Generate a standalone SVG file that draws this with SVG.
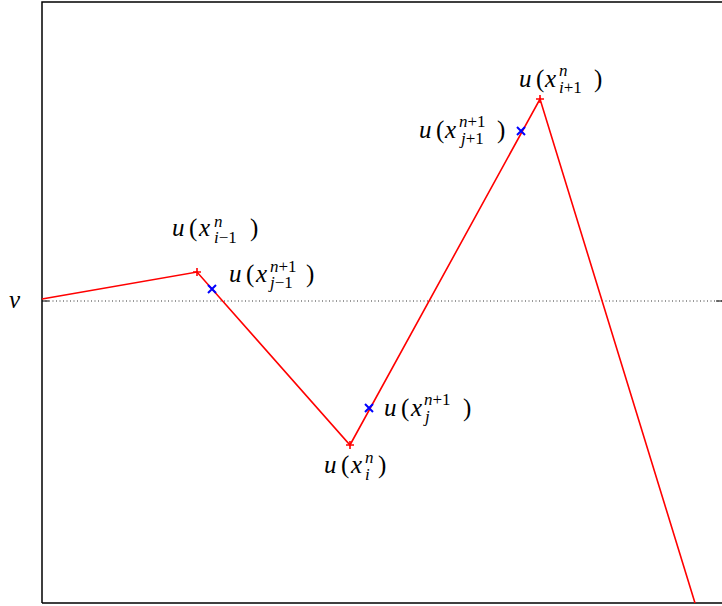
<svg xmlns="http://www.w3.org/2000/svg" width="722" height="606" viewBox="0 0 722 606">
<style>
.t{font-family:'Liberation Serif','Times New Roman','DejaVu Serif',serif;fill:#000;font-size:25px}
.it{font-style:italic}
.s{font-size:17px}
.frame{fill:none;stroke:#000;stroke-width:1.5}
.curve{fill:none;stroke:#ff0000;stroke-width:1.6}
.plus{stroke:#ff0000;stroke-width:1.6;fill:none}
.cross{stroke:#0000ff;stroke-width:2;fill:none}
</style>
<defs>
<path id="pm" d="M-4,0H4M0,-4V4"/>
<path id="xm" d="M-4,-4L4,4M-4,4L4,-4"/>
</defs>
<rect width="722" height="606" fill="#fff"/>
<g id="axes">
<path class="frame" d="M42,603V2H724M42,603H724"/>
<path d="M42,301H724" stroke="#333" stroke-width="1" stroke-dasharray="1,2.5"/>
<path d="M42,301H49M716,301H722" stroke="#000" stroke-width="1.2"/>
<text class="t it" x="9" y="308">v</text>
</g>
<g id="connectors">
<polyline class="curve" points="42,299 197,272 350,445 540,99 695,603"/>
</g>
<g id="markers">
<use href="#pm" class="plus" x="197" y="272"/>
<use href="#pm" class="plus" x="350" y="445"/>
<use href="#pm" class="plus" x="540" y="99"/>
<use href="#xm" class="cross" x="212" y="289"/>
<use href="#xm" class="cross" x="369" y="408"/>
<use href="#xm" class="cross" x="521" y="131"/>
</g>
<g id="label-i-1">
<text class="t"><tspan class="it" x="172" y="236">u</tspan><tspan x="189" y="236">(</tspan><tspan class="it" x="199" y="236">x</tspan><tspan class="it s" x="214" y="227">n</tspan><tspan class="s" x="214" y="243"><tspan class="it">i</tspan>−1</tspan><tspan x="250" y="236">)</tspan></text>
</g>
<g id="label-j-1">
<text class="t"><tspan class="it" x="229" y="282">u</tspan><tspan x="246" y="282">(</tspan><tspan class="it" x="256" y="282">x</tspan><tspan class="s" x="270" y="272"><tspan class="it">n</tspan>+1</tspan><tspan class="s" x="270" y="288"><tspan class="it">j</tspan>−1</tspan><tspan x="306" y="282">)</tspan></text>
</g>
<g id="label-i">
<text class="t"><tspan class="it" x="324" y="473">u</tspan><tspan x="341" y="473">(</tspan><tspan class="it" x="351" y="473">x</tspan><tspan class="it s" x="365" y="463">n</tspan><tspan class="it s" x="365" y="480">i</tspan><tspan x="378" y="473">)</tspan></text>
</g>
<g id="label-j">
<text class="t"><tspan class="it" x="384" y="416">u</tspan><tspan x="401" y="416">(</tspan><tspan class="it" x="411" y="416">x</tspan><tspan class="s" x="424" y="405"><tspan class="it">n</tspan>+1</tspan><tspan class="it s" x="425" y="422">j</tspan><tspan x="463" y="416">)</tspan></text>
</g>
<g id="label-i+1">
<text class="t"><tspan class="it" x="519" y="87">u</tspan><tspan x="536" y="87">(</tspan><tspan class="it" x="545" y="87">x</tspan><tspan class="it s" x="559" y="76">n</tspan><tspan class="s" x="559" y="93"><tspan class="it">i</tspan>+1</tspan><tspan x="594" y="87">)</tspan></text>
</g>
<g id="label-j+1">
<text class="t"><tspan class="it" x="419" y="138">u</tspan><tspan x="436" y="138">(</tspan><tspan class="it" x="445" y="138">x</tspan><tspan class="s" x="459" y="127"><tspan class="it">n</tspan>+1</tspan><tspan class="s" x="461" y="144"><tspan class="it">j</tspan>+1</tspan><tspan x="497" y="138">)</tspan></text>
</g>
</svg>
